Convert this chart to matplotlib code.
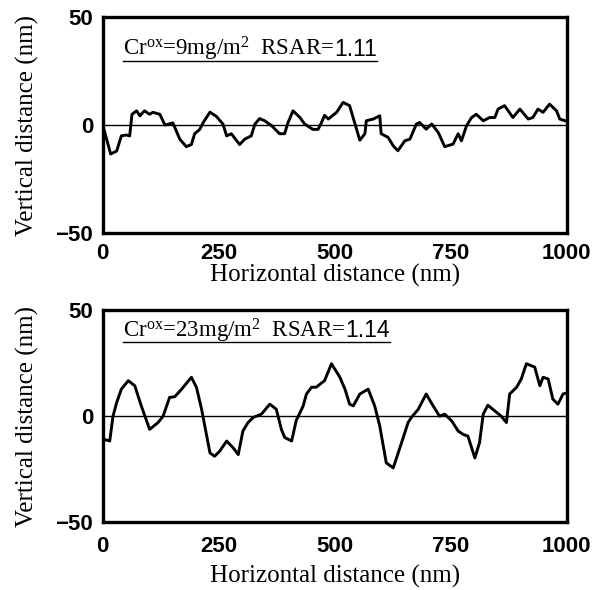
import matplotlib.pyplot as plt
import numpy as np

plt.rcParams['mathtext.fontset'] = 'custom'
plt.rcParams['mathtext.rm'] = 'Liberation Serif'
plt.rcParams['mathtext.it'] = 'Liberation Serif:italic'

serif = 'Liberation Serif'
sans = 'Liberation Sans'

# profile 1: Cr_ox = 9 mg/m2
x1 = [0, 17, 30, 40, 51, 58, 63, 73, 80, 90, 101, 108, 123, 134, 151, 166, 180, 191,
      198, 209, 216, 231, 245, 259, 267, 277, 295, 306, 320, 328, 338, 349, 364, 381,
      392, 399, 410, 425, 435, 453, 464, 471, 478, 486, 504, 518, 532, 543, 554, 565,
      568, 583, 597, 600, 615, 626, 636, 651, 662, 676, 683, 697, 709, 723, 737, 755,
      766, 773, 784, 795, 805, 820, 834, 845, 852, 866, 884, 899, 917, 927, 938, 949,
      963, 978, 985, 996, 1000]
y1 = [0, -13.4, -12, -5, -4.6, -5, 5, 6.6, 4.3, 6.6, 5, 5.9, 5, 0, 1, -6.5, -10, -9,
      -4, -2, 1, 6, 4, 0.5, -5, -4, -9, -6.5, -5, 0.5, 3, 2, -0.3, -4,
      -4, 1, 6.6, 3.5, 0.5, -2, -2, 1, 4.5, 2.8, 5.9, 10.5, 9, 1, -7, -4,
      2, 2.8, 4.3, -4, -5.7, -9.6, -11.9, -7.3, -6.5, 0.5, 1.2, -1.9, 0.5, -3.4, -10, -8.8,
      -4, -7.3, -0.3, 3.5, 5, 2, 3.5, 3.5, 7.4, 9, 3.5, 7.4, 2.8, 3.5, 7.4, 5.9,
      9.7, 6.6, 2.8, 2, 2]

# profile 2: Cr_ox = 23 mg/m2
x2 = [0, 4, 15, 22, 30, 40, 55, 69, 83, 101, 119, 130, 144, 155, 170, 191, 202, 213,
      231, 241, 252, 267, 281, 292, 302, 313, 324, 342, 360, 374, 385, 392, 407, 417,
      432, 439, 450, 460, 478, 493, 511, 522, 532, 540, 554, 572, 586, 597, 611, 626,
      644, 658, 665, 680, 697, 712, 726, 737, 752, 766, 777, 787, 802, 812, 820, 830,
      845, 859, 870, 877, 892, 902, 913, 931, 942, 949, 960, 970, 981, 992, 1000]
y2 = [-11, -11, -11.7, 0, 6.5, 12.8, 16.8, 14.4, 4.9, -6.2, -3, 0, 8.9, 9.2, 12.8, 18.4, 13.6, 3.3,
      -17.3, -18.9, -16.5, -11.7, -14.9, -18.1, -7, -3, -0.6, 1, 5.7, 3.3, -6.2, -10, -11.7, -2,
      4.9, 10.5, 13.7, 13.7, 16.8, 24.8, 18.4, 12.8, 5.7, 4.9, 10.5, 12.8, 4.9, -4.6, -22, -24.4,
      -12.5, -3, -0.6, 3.3, 10.5, 4.9, 0, 1, -2.2, -7, -8.6, -9.4, -19.7, -12.5, 1, 5.2,
      2.5, 0, -3, 10.5, 13.7, 17.6, 24.8, 23.2, 14.4, 18.4, 17.6, 8.1, 5.7, 10.5, 11]

labels = [r'Cr$^{\rm ox}$=9mg/m$^{2}$  RSAR=', r'Cr$^{\rm ox}$=23mg/m$^{2}$  RSAR=']
rsar = ['1.11', '1.14']

fig = plt.figure(figsize=(6.01, 5.90), dpi=100)
ax1 = fig.add_axes([0.171, 0.605, 0.772, 0.366])
ax2 = fig.add_axes([0.171, 0.115, 0.772, 0.359])
label_y = [0.82, 0.873]
tick_pad = [7, 10]
xlab_pad = [0, 6]

for i, ax in enumerate([ax1, ax2]):
    xs, ys = [x1, x2][i], [y1, y2][i]
    ly = label_y[i]
    ax.plot(xs, ys, color='black', lw=2.1)
    ax.axhline(0, color='black', lw=1.0)
    ax.set_xlim(0, 1000)
    ax.set_ylim(-50, 50)
    ax.set_xticks([0, 250, 500, 750, 1000])
    ax.set_yticks([-50, 0, 50])
    ax.set_yticklabels(['\u221250', '0', '50'])
    ax.tick_params(length=0)
    ax.tick_params(axis='y', pad=7)
    ax.tick_params(axis='x', pad=tick_pad[i])
    for t in ax.get_xticklabels() + ax.get_yticklabels():
        t.set_fontfamily(sans)
        t.set_fontweight('bold')
        t.set_fontsize(16)
    for s in ax.spines.values():
        s.set_linewidth(2.4)
    ax.set_xlabel('Horizontal distance (nm)', family=serif, fontsize=18, labelpad=xlab_pad[i])
    ax.set_ylabel('Vertical distance (nm)', family=serif, fontsize=18, labelpad=12)

    t1 = ax.text(0.043, ly, labels[i], transform=ax.transAxes, family=serif, fontsize=16.5,
                 va='baseline', ha='left')
    fig.canvas.draw()
    r_ = fig.canvas.get_renderer()
    bb = t1.get_window_extent(r_).transformed(ax.transAxes.inverted())
    t2 = ax.text(bb.x1, ly, rsar[i], transform=ax.transAxes, family=sans, fontsize=16.5,
                 va='baseline', ha='left')
    bb2 = t2.get_window_extent(r_).transformed(ax.transAxes.inverted())
    ax.plot([0.043, bb2.x1], [ly - 0.022, ly - 0.022], transform=ax.transAxes,
            color='black', lw=1.0)

fig.savefig('out.png', dpi=100)
